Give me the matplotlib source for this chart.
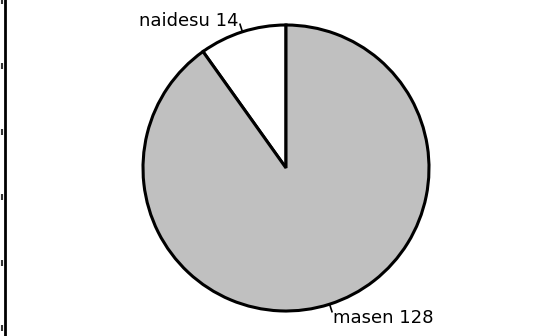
import numpy as np
import matplotlib.pyplot as plt
from matplotlib.transforms import blended_transform_factory

plt.rcParams['font.family'] = ['DejaVu Sans']

labels = ['naidesu', 'masen']
counts = [14, 128]
colors = ['white', '#c0c0c0']
axis_ticks = [0, 1, 2, 3, 4, 5]

W, H = 544, 336
cx, cy, r = 286, 168, 143

fig = plt.figure(figsize=(W / 100, H / 100), dpi=100)

# axis strip on the far left edge
side = fig.add_axes([5 / W, 0, 0.3, 1])
side.set_ylim(-8 / 65.4, 5 + 1 / 65.4)
side.set_xticks([])
side.set_yticks([])
for s in ['top', 'right', 'bottom']:
    side.spines[s].set_visible(False)
side.spines['left'].set_linewidth(2)
side.patch.set_alpha(0)
# little marks left of the spine at each tick
trans = blended_transform_factory(fig.transFigure, side.transData)
side.plot(np.full(len(axis_ticks), 1.5 / W), axis_ticks, ls='none', marker='|',
          ms=4, mew=1.5, color='#333333', transform=trans, clip_on=False)

ax = fig.add_axes([0, 0, 1, 1])
wedges, _ = ax.pie(counts, colors=colors, startangle=90, counterclock=True,
                   radius=1, wedgeprops=dict(edgecolor='black', linewidth=2.2))
ax.set_xlim(-cx / r, (W - cx) / r)
ax.set_ylim(-(H - cy) / r, cy / r)
ax.axis('off')
ax.patch.set_alpha(0)

for w, lab, n in zip(wedges, labels, counts):
    mid = np.deg2rad((w.theta1 + w.theta2) / 2)
    x0, y0 = np.cos(mid), np.sin(mid)
    x1, y1 = 1.055 * x0, 1.055 * y0
    ax.plot([x0, x1], [y0, y1], color='black', lw=1.2)
    if y0 > 0:
        ax.text(x1 - 0.01, y1 - 0.04, f'{lab} {n}', ha='right', va='bottom', fontsize=13)
    else:
        ax.text(x1 + 0.01, y1 + 0.02, f'{lab} {n}', ha='left', va='top', fontsize=13)

fig.savefig('out.png', dpi=100)
